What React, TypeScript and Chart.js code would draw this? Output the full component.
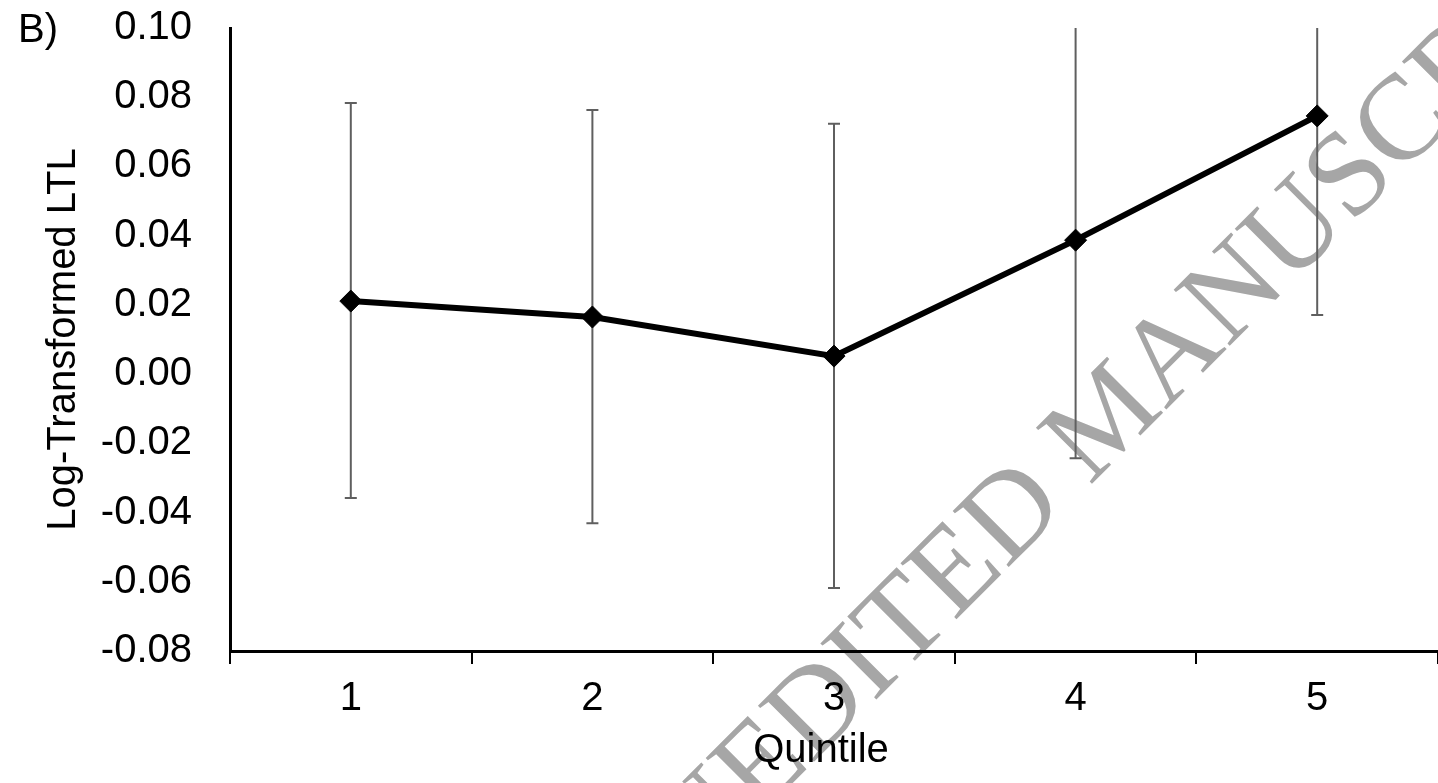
import React, { useEffect, useRef } from 'react';
import { Chart, registerables } from 'chart.js';

Chart.register(...registerables);

const categories = ['1', '2', '3', '4', '5'];
const meanValues = [0.0211, 0.0165, 0.0052, 0.0387, 0.0746];
const upperValues = [0.0783, 0.0763, 0.0723, 0.102, 0.132];
const lowerValues = [-0.0358, -0.0431, -0.0618, -0.0243, 0.0171];
const yMin = -0.08;
const yMax = 0.1;
const yStep = 0.02;
const panelLabel = 'B)';
const yTitle = 'Log-Transformed LTL';
const xTitle = 'Quintile';
const watermarkText = 'UNEDITED MANUSCRIPT';

const SANS = "'Liberation Sans', Arial, Helvetica, sans-serif";
const SERIF = "'Liberation Serif', 'Times New Roman', serif";

const errorBarPlugin = {
  id: 'errorBars',
  beforeDatasetsDraw(chart: any) {
    const { ctx, chartArea, scales } = chart;
    const xs = scales.x;
    const ys = scales.y;
    ctx.save();
    ctx.beginPath();
    ctx.rect(chartArea.left, chartArea.top, chartArea.right - chartArea.left, chartArea.bottom - chartArea.top);
    ctx.clip();
    ctx.strokeStyle = '#5f5f5f';
    ctx.lineWidth = 2;
    categories.forEach((c, i) => {
      const x = xs.getPixelForValue(i);
      const yHi = ys.getPixelForValue(upperValues[i]);
      const yLo = ys.getPixelForValue(lowerValues[i]);
      ctx.beginPath();
      ctx.moveTo(x, yHi);
      ctx.lineTo(x, yLo);
      ctx.moveTo(x - 6, yHi);
      ctx.lineTo(x + 6, yHi);
      ctx.moveTo(x - 6, yLo);
      ctx.lineTo(x + 6, yLo);
      ctx.stroke();
    });
    ctx.restore();
  },
};

const watermarkPlugin = {
  id: 'watermark',
  beforeDraw(chart: any) {
    const { ctx } = chart;
    const size = 121;
    ctx.save();
    ctx.font = `${size}px ${SERIF}`;
    ctx.fillStyle = '#a6a6a6';
    ctx.textBaseline = 'alphabetic';
    ctx.textAlign = 'left';
    ctx.translate(757, 762);
    ctx.rotate((-45 * Math.PI) / 180);
    const prefix = ctx.measureText('UN').width + ctx.measureText('E').width / 2;
    ctx.fillText(watermarkText, -prefix, size * 0.331);
    ctx.restore();
  },
};

const textPlugin = {
  id: 'extraText',
  afterDraw(chart: any) {
    const { ctx, chartArea } = chart;
    ctx.save();
    ctx.fillStyle = '#000';
    ctx.font = `40px ${SANS}`;
    ctx.textAlign = 'left';
    ctx.textBaseline = 'alphabetic';
    ctx.fillText(panelLabel, 18, 42);
    ctx.textAlign = 'center';
    ctx.textBaseline = 'middle';
    ctx.fillText(xTitle, (chartArea.left + chartArea.right) / 2 - 13, 751);
    ctx.restore();
  },
};

export default function App() {
  const canvasRef = useRef<HTMLCanvasElement | null>(null);

  useEffect(() => {
    if (!canvasRef.current) return;
    const chart = new Chart(canvasRef.current, {
      type: 'line',
      data: {
        labels: categories,
        datasets: [
          {
            data: meanValues,
            borderColor: '#000',
            backgroundColor: '#000',
            borderWidth: 6,
            tension: 0,
            pointStyle: 'rectRot',
            pointRadius: 11,
            pointBorderWidth: 1,
            pointBackgroundColor: '#000',
            pointBorderColor: '#000',
          },
        ],
      },
      options: {
        animation: false,
        responsive: true,
        maintainAspectRatio: false,
        layout: { padding: { top: 28, right: 4, left: 0, bottom: 0 } },
        plugins: {
          legend: { display: false },
          tooltip: { enabled: false },
        },
        scales: {
          x: {
            type: 'category',
            offset: true,
            grid: {
              display: true,
              drawOnChartArea: false,
              drawTicks: true,
              tickLength: 13,
              offset: true,
              color: '#000',
              lineWidth: 2,
            },
            border: { display: true, color: '#000', width: 3 },
            ticks: {
              color: '#000',
              padding: 11,
              font: { family: SANS, size: 40 },
              maxRotation: 0,
            },
            title: { display: false },
            afterFit(scale: any) {
              scale.height = 132;
              scale.paddingLeft = 0;
              scale.paddingRight = 0;
            },
          },
          y: {
            type: 'linear',
            min: yMin,
            max: yMax,
            grid: { display: false, drawTicks: false, tickLength: 0 },
            border: { display: true, color: '#000', width: 3 },
            ticks: {
              stepSize: yStep,
              color: '#000',
              padding: 38,
              font: { family: SANS, size: 40 },
              callback: (v: any) => {
                const n = Number(v);
                return Math.abs(n) < 1e-9 ? '0.00' : n.toFixed(2);
              },
            },
            title: {
              display: true,
              text: yTitle,
              color: '#000',
              font: { family: SANS, size: 40 },
              padding: { top: 40, bottom: 0 },
            },
            afterFit(scale: any) {
              scale.width = 230;
              scale.paddingTop = 0;
              scale.paddingBottom = 0;
            },
          },
        },
      },
      plugins: [watermarkPlugin, errorBarPlugin, textPlugin],
    });
    return () => chart.destroy();
  }, []);

  return (
    <div style={{ position: 'fixed', left: 0, top: 0, width: 1438, height: 783, overflow: 'hidden', background: '#fff' }}>
      <div style={{ position: 'absolute', left: 0, top: 0, width: 1450, height: 783 }}>
        <canvas ref={canvasRef} />
      </div>
    </div>
  );
}
